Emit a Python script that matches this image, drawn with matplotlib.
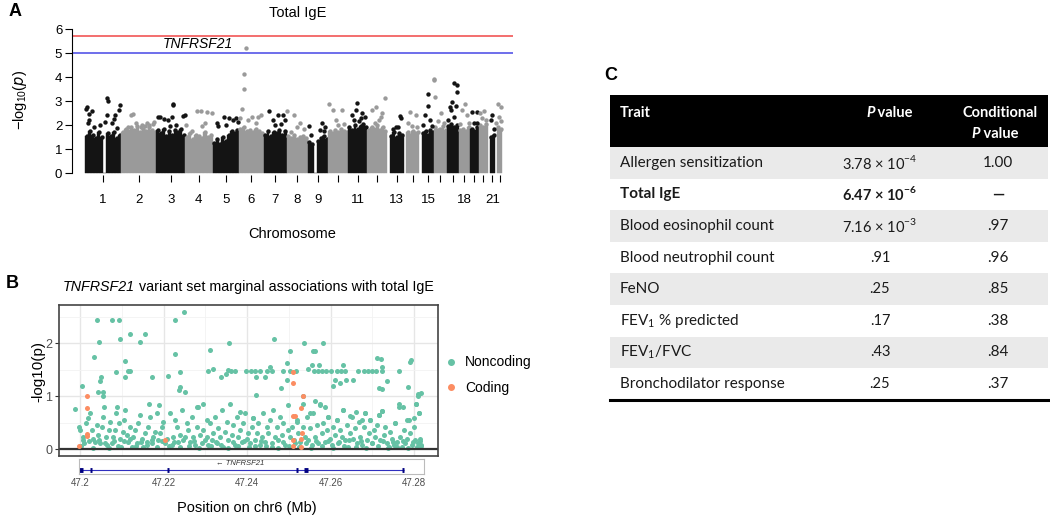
import matplotlib.pyplot as plt
from matplotlib.patches import Rectangle
from matplotlib.lines import Line2D
import numpy as np

W, H = 1050, 515

plt.rcParams['font.family'] = ['Liberation Sans', 'DejaVu Sans']

# ---------------- panel A data (genome-wide scan, total IgE) ----------------
chrom_len = [249.3, 243.2, 198.0, 191.2, 180.9, 171.1, 159.1, 146.4, 141.2, 135.5,
             135.0, 133.9, 115.2, 107.3, 102.5, 90.4, 81.2, 78.1, 59.1, 63.0, 48.1, 51.3]
chrom_first = [0.8, 0.1, 0.1, 0.1, 0.1, 0.2, 0.1, 0.2, 0.2, 0.1, 0.2, 0.1,
               19.1, 19.5, 20.1, 0.1, 0.1, 0.1, 0.3, 0.1, 14.6, 16.1]
# top of the dense point cloud, read along each chromosome
bulk_top = [
    [1.55, 1.75, 1.6, 1.45, 1.7, 1.5, 0, 1.65, 1.55, 1.7, 1.45, 1.6],
    [1.7, 1.85, 1.75, 1.9, 1.8, 1.95, 1.7, 1.85, 1.75, 1.9, 1.8, 1.7],
    [1.8, 1.65, 1.85, 1.55, 1.75, 1.6, 1.8, 1.7, 1.85, 1.6],
    [1.5, 1.65, 1.4, 1.6, 1.55, 1.45, 1.7, 1.5, 1.6],
    [1.25, 1.4, 1.2, 1.5, 1.35, 1.6, 1.75, 1.65, 1.8],
    [1.85, 1.9, 1.75, 1.8, 1.7, 1.85, 1.75, 1.65],
    [1.6, 1.75, 1.55, 1.7, 1.65, 1.8, 1.6, 1.75],
    [1.55, 1.45, 1.6, 1.4, 1.5, 1.55, 1.45],
    [1.3, 1.2, 0, 1.35, 1.45, 1.55, 1.4],
    [1.75, 1.65, 1.8, 1.7, 1.85, 1.75, 1.7],
    [1.9, 1.8, 2.0, 1.85, 1.95, 2.05, 1.9],
    [1.8, 1.9, 1.85, 2.0, 1.8, 1.9, 1.75],
    [1.55, 1.7, 1.5, 1.65, 1.6],
    [1.7, 1.6, 1.75, 1.65, 1.7],
    [1.65, 1.75, 1.6, 1.8, 1.7],
    [1.9, 1.8, 1.85, 1.95, 1.8],
    [1.95, 2.05, 1.9, 2.0],
    [1.8, 1.85, 1.75, 1.9],
    [1.85, 1.75, 1.9],
    [2.0, 1.9, 2.05],
    [1.5, 1.6],
    [1.9, 1.8, 1.85],
]
# single SNPs standing above the cloud (position in Mb, -log10 p)
peak_pos = [
    [5, 16, 30, 45, 25, 60, 150, 160, 155, 140, 240, 235, 210, 200, 23, 104, 184, 219],
    [70, 85, 105, 140, 165, 195, 220, 143, 177, 227, 50],
    [10, 55, 115, 118, 108, 185, 92, 138, 26, 83, 195],
    [80, 155, 45, 115, 111, 188, 10, 140],
    [78, 140, 158, 37, 95, 113, 176, 30],
    [5, 20, 47.2, 33, 34, 90, 150, 120, 60, 131],
    [35, 100, 135, 65, 150, 80, 120],
    [2, 50, 95, 30, 70, 120],
    [10, 100, 120, 85, 110, 20],
    [5, 30, 95, 55, 70, 110],
    [60, 55, 100, 120, 25, 90, 40, 75],
    [30, 60, 100, 90, 120, 50, 80],
    [90, 100, 60, 40, 80],
    [45, 85, 30, 60, 95],
    [60, 61, 40, 75, 30, 90],
    [2, 3, 8, 50, 30, 70],
    [50, 68, 70, 35, 20, 28, 62, 10, 45],
    [40, 20, 60, 10, 70],
    [10, 50, 30, 45],
    [10, 35, 50, 25],
    [30, 25, 40],
    [20, 45, 32, 10, 40],
]
peak_val = [
    [2.65, 2.74, 2.45, 2.6, 2.21, 1.9, 3.12, 3.02, 2.42, 2.14, 2.83, 2.63, 2.42, 2.24, 2.07, 2.0, 2.07, 1.86],
    [2.42, 2.46, 2.07, 1.9, 1.95, 2.0, 2.05, 2.0, 2.07, 2.14, 1.93],
    [2.32, 2.24, 2.88, 2.82, 2.32, 2.39, 1.95, 2.0, 2.35, 2.21, 2.42],
    [2.58, 2.56, 1.75, 1.95, 2.6, 2.51, 2.0, 2.07],
    [2.32, 2.2, 2.3, 1.95, 2.0, 2.28, 2.14, 2.07],
    [2.3, 2.67, 5.2, 4.14, 3.52, 2.35, 2.42, 2.07, 2.2, 2.35],
    [2.6, 2.42, 2.42, 2.21, 2.21, 2.0, 2.05],
    [2.6, 2.42, 2.07, 1.72, 1.9, 1.85],
    [1.95, 2.07, 1.93, 1.8, 1.75, 1.6],
    [2.86, 2.63, 2.63, 2.21, 2.0, 2.05],
    [2.9, 2.63, 2.49, 2.35, 2.42, 2.28, 2.2, 2.15],
    [2.63, 2.76, 2.49, 2.35, 3.14, 2.1, 2.2],
    [2.38, 2.28, 1.93, 1.85, 1.9],
    [2.53, 2.42, 2.07, 1.95, 1.9],
    [3.28, 2.79, 2.42, 2.21, 2.0, 1.95],
    [3.93, 3.88, 3.15, 2.49, 2.15, 2.1],
    [3.74, 3.67, 3.39, 2.97, 2.76, 2.63, 2.79, 2.2, 2.35],
    [2.88, 2.63, 2.42, 2.05, 2.1],
    [2.56, 2.53, 2.07, 2.1],
    [2.49, 2.58, 2.2, 2.3],
    [2.42, 2.21, 1.85],
    [2.86, 2.76, 2.35, 2.1, 2.15],
]
label_chroms = [1, 2, 3, 4, 5, 6, 7, 8, 9, 11, 13, 15, 18, 21]
sig_line = 5.7
sugg_line = 5.0

# ---------------- panel B data (TNFRSF21 region, kb from 47.2 Mb) ----------------
nc_hi_kb = [-1.2, 0.3, 3.9, 4.6, 3.3, 4.9, 4.7, 4.2, 5.5, 5.5,
            7.7, 9.3, 9.6, 11.8, 10.7, 10.6, 8.5, 11.4, 12.0, 14.2,
            15.4, 17.2, 18.9, 16.5, 22.6, 24.8, 22.7, 21.0, 23.8, 23.6,
            25.2, 23.9, 31.2, 31.9, 30.6, 35.6, 33.7, 35.5, 34.9, 36.2,
            37.0, 39.8, 41.0, 42.0, 43.0, 44.7, 42.2, 44.2, 42.2, 46.5,
            50.2, 49.5, 48.2, 49.5, 50.3, 51.7, 48.7, 45.5, 46.0, 53.7,
            53.4, 54.6, 55.7, 56.2, 58.2, 55.5, 57.3, 56.0, 57.0, 58.0,
            59.0, 60.0, 61.5, 62.5, 63.5, 66.5, 68.0, 69.0, 70.0, 71.0,
            72.3, 63.0, 61.0, 62.2, 63.8, 60.5, 65.5, 71.1, 72.1, 72.3,
            73.5, 71.7, 72.3, 76.3, 79.0, 79.3, 78.6, 80.9, 81.7, 81.0]
nc_hi_val = [0.76, 1.20, 2.44, 2.03, 1.73, 1.37, 1.29, 1.07, 1.07, 1.00,
             2.44, 2.44, 2.08, 2.18, 1.66, 1.37, 1.46, 1.48, 1.48, 2.02,
             2.18, 1.37, 0.83, 0.86, 2.44, 2.59, 1.79, 1.38, 1.18, 1.12,
             1.08, 1.46, 1.87, 1.52, 1.47, 2.01, 1.36, 1.50, 1.41, 1.47,
             1.47, 1.48, 1.48, 1.48, 1.48, 1.48, 1.36, 1.36, 1.02, 2.08,
             1.85, 1.63, 1.15, 1.31, 1.48, 1.48, 1.48, 1.55, 1.48, 2.01,
             1.01, 1.51, 1.85, 1.85, 2.01, 1.59, 1.59, 1.48, 1.48, 1.48,
             1.48, 1.48, 1.48, 1.48, 1.48, 1.48, 1.48, 1.48, 1.48, 1.48,
             1.48, 1.59, 1.31, 1.24, 1.31, 1.20, 1.31, 1.72, 1.70, 1.55,
             1.29, 1.16, 1.14, 1.48, 1.65, 1.68, 1.18, 1.04, 1.05, 1.00]
nc_mid_kb = [2.3, 5.7, 8.6, 8.9, 10.8, 14.3, 16.7, 18.3, 21.5, 24.3,
             26.7, 27.9, 29.5, 30.3, 32.3, 33.9, 35.9, 37.5, 38.3, 39.5,
             41.5, 43.9, 46.3, 47.9, 49.9, 51.9, 53.5, 55.1, 56.2, 57.5,
             58.7, 59.5, 61.5, 63.1, 64.7, 66.0, 67.5, 68.3, 69.5, 71.5,
             72.3, 75.5, 76.3, 77.3, 78.3, 80.5, 81.2, 80.0]
nc_mid_val = [0.68, 0.80, 0.68, 0.80, 0.74, 0.64, 0.61, 0.68, 0.68, 0.74,
              0.61, 0.80, 0.85, 0.55, 0.61, 0.74, 0.86, 0.61, 0.70, 0.68,
              0.58, 0.68, 0.74, 0.61, 0.84, 0.55, 0.85, 0.68, 0.90, 0.86,
              0.80, 0.61, 0.55, 0.74, 0.63, 0.70, 0.55, 0.68, 0.55, 0.64,
              0.71, 0.50, 0.86, 0.80, 0.55, 0.86, 0.68, 0.58]
nc_low_kb = [-0.3, -0.1, 0.6, 0.7, 1.0, 1.4, 1.9, 2.7, 3.1, 3.5, 3.9, 4.3, 4.7, 5.1, 5.5, 6.2, 6.5, 6.8, 7.1,
             7.5, 7.9, 8.3, 9.2, 9.5, 9.8, 10.2, 10.5, 11.1, 11.5, 11.9, 12.3, 12.7, 13.1, 13.5, 13.9, 14.7, 15.1, 15.5, 15.9, 16.3,
             17.1, 17.5, 17.9, 18.7, 19.1, 19.5, 19.9, 20.3, 20.7, 21.9, 22.3, 22.7, 23.1, 23.5, 23.9, 25.1, 25.5, 25.9, 26.3, 27.1, 27.5, 27.9, 28.3, 28.7,
             29.1, 29.5, 30.3, 30.7, 31.1, 31.5, 31.9, 32.7, 33.1, 33.5, 34.3, 34.7, 35.1, 35.5, 36.3, 36.7, 37.1, 37.9, 38.3, 38.7, 39.1, 39.9, 40.3, 40.7, 41.1, 41.5,
             41.9, 42.3, 42.7, 43.1, 43.5, 44.3, 44.7, 45.1, 45.5, 45.9, 46.7, 47.1, 47.5, 48.3, 48.7, 49.1, 49.9, 50.3, 50.7, 51.5, 51.9, 52.3, 52.7, 53.5, 53.9, 54.3,
             54.7, 55.1, 55.5, 55.9, 56.3, 56.7, 57.1, 57.5, 57.9, 58.3, 58.7, 59.1, 59.5, 59.9, 60.3, 60.7, 61.1, 61.5, 61.9, 62.3, 62.7, 63.1, 63.5, 63.9, 64.3, 64.7, 65.1, 65.5, 65.9, 66.3, 66.7, 67.1,
             67.5, 67.9, 68.3, 68.7, 69.1, 69.5, 69.9, 70.3, 70.7, 71.1, 71.5, 71.9, 72.3, 72.7, 73.1, 73.5, 73.9, 74.3, 74.7, 75.1, 75.5, 75.9, 76.3, 76.7, 77.1, 77.5, 77.9, 78.3, 78.7, 79.1, 79.5, 79.9, 80.3, 80.5, 80.9, 81.2, 81.5, 81.8]
nc_low_val = [0.42, 0.36, 0.23, 0.17, 0.11, 0.49, 0.58, 0.36, 0.20, 0.14, 0.45, 0.26, 0.11, 0.42, 0.61, 0.23, 0.08, 0.36, 0.52,
              0.11, 0.23, 0.36, 0.49, 0.20, 0.04, 0.33, 0.55, 0.26, 0.14, 0.42, 0.04, 0.23, 0.36, 0.11, 0.49, 0.20, 0.04, 0.30, 0.14, 0.42,
              0.11, 0.23, 0.33, 0.17, 0.30, 0.42, 0.52, 0.11, 0.20, 0.08, 0.23, 0.55, 0.42, 0.14, 0.26, 0.23, 0.49, 0.36, 0.14, 0.23, 0.08, 0.42, 0.80, 0.26,
              0.11, 0.36, 0.23, 0.08, 0.49, 0.17, 0.30, 0.11, 0.39, 0.23, 0.04, 0.33, 0.52, 0.17, 0.26, 0.45, 0.08, 0.23, 0.36, 0.14, 0.49, 0.20, 0.30, 0.11, 0.42, 0.58,
              0.17, 0.30, 0.49, 0.08, 0.23, 0.14, 0.42, 0.30, 0.55, 0.04, 0.23, 0.42, 0.17, 0.26, 0.49, 0.08, 0.36, 0.23, 0.42, 0.11, 0.52, 0.30, 0.14, 0.42, 0.23, 0.61,
              0.17, 0.39, 0.08, 0.68, 0.23, 0.45, 0.11, 0.83, 0.30, 0.49, 0.14, 0.36, 0.61, 0.20, 0.08, 0.42, 0.26, 0.55, 0.11, 0.36, 0.23, 0.74, 0.17, 0.45, 0.04, 0.30, 0.61, 0.20, 0.39, 0.11, 0.52, 0.23,
              0.08, 0.42, 0.68, 0.17, 0.30, 0.55, 0.11, 0.36, 0.23, 0.45, 0.64, 0.17, 0.71, 0.26, 0.42, 0.11, 0.04, 0.33, 0.20, 0.08, 0.49, 0.14, 0.80, 0.23, 0.04, 0.36, 0.11, 0.20, 0.55, 0.30, 0.08, 0.42, 0.17, 0.86, 0.11, 0.68, 0.20, 0.08]
nc_base_kb = [0.2, 2.0, 3.0, 4.4, 5.8, 6.9, 8.0, 9.0, 10.4, 12.0, 13.3, 14.5, 16.0, 17.3, 18.5, 19.7, 21.2, 22.5, 24.0, 24.6,
              26.0, 27.3, 28.5, 29.8, 31.3, 32.5, 33.8, 35.3, 36.5, 37.7, 39.3, 40.5, 42.0, 43.3, 44.5, 46.0, 47.3, 48.5, 50.0, 51.2,
              52.5, 54.0, 55.3, 56.5, 58.0, 59.3, 60.5, 62.0, 63.3, 64.5, 66.0, 67.3, 68.5, 70.0, 71.3, 72.5, 73.7, 74.9, 76.0, 77.3,
              78.5, 79.7, 80.7, 81.4, 81.6]
nc_base_val = [0.05, 0.15, 0.03, 0.18, 0.12, 0.02, 0.15, 0.06, 0.16, 0.20, 0.05, 0.13, 0.07, 0.18, 0.04, 0.15, 0.05, 0.14, 0.04, 0.18,
               0.06, 0.16, 0.03, 0.18, 0.05, 0.14, 0.07, 0.03, 0.13, 0.05, 0.16, 0.04, 0.06, 0.16, 0.05, 0.12, 0.03, 0.14, 0.05, 0.17,
               0.04, 0.12, 0.03, 0.15, 0.05, 0.16, 0.03, 0.14, 0.05, 0.18, 0.04, 0.15, 0.03, 0.12, 0.05, 0.16, 0.03, 0.13, 0.04, 0.15,
               0.03, 0.14, 0.04, 0.15, 0.05]
cod_kb = [1.6, 1.6, 1.7, 1.5, -0.3, 20.2, 51.0, 50.9, 51.1, 51.4, 53.4, 53.0, 53.1, 53.0, 51.0, 51.0, 53.0]
cod_val = [1.00, 0.78, 0.28, 0.25, 0.06, 0.17, 1.46, 1.25, 0.63, 0.62, 1.00, 0.77, 0.30, 0.20, 0.18, 0.06, 0.04]
gene_span = (47.1996, 47.2776)
exon_start = [47.1996, 47.2024, 47.2209, 47.2518, 47.2536, 47.2772]
exon_end = [47.2006, 47.2027, 47.2212, 47.2521, 47.2545, 47.2777]
region_ticks = [47.20, 47.22, 47.24, 47.26, 47.28]
region_tick_labels = ['47.2', '47.22', '47.24', '47.26', '47.28']

# ---------------- panel C data ----------------
traits = ['Allergen sensitization', 'Total IgE', 'Blood eosinophil count', 'Blood neutrophil count',
          'FeNO', r'FEV$_{\mathregular{1}}$ % predicted', r'FEV$_{\mathregular{1}}$/FVC', 'Bronchodilator response']
p_values = [r'3.78 × 10$^{\mathregular{-4}}$', r'6.47 × 10$^{\mathregular{-6}}$', r'7.16 × 10$^{\mathregular{-3}}$',
            '.91', '.25', '.17', '.43', '.25']
cond_p_values = ['1.00', '—', '.97', '.96', '.85', '.38', '.84', '.37']
bold_row = 1


def box(l, t, r, b):
    return [l / W, 1 - b / H, (r - l) / W, (b - t) / H]


fig = plt.figure(figsize=(W / 100, H / 100), dpi=100)

# =============== A ===============
ax = fig.add_axes(box(72, 25, 513, 175))
starts = np.concatenate([[0], np.cumsum(chrom_len)[:-1]])
cols = ['#141414', '#9a9a9a']
for i in range(len(chrom_len)):
    c = cols[i % 2]
    tops = np.array(bulk_top[i])
    edges = starts[i] + np.linspace(chrom_first[i], chrom_len[i], len(tops) + 1)
    ax.bar(edges[:-1], tops, width=np.diff(edges), align='edge', color=c,
           edgecolor=c, linewidth=0.3)
    mids = (edges[:-1] + edges[1:]) / 2
    keep = tops > 0
    ax.scatter(mids[keep], tops[keep], s=10, color=c, linewidths=0)
    ax.scatter(starts[i] + np.array(peak_pos[i]), peak_val[i], s=10, color=c,
               linewidths=0, zorder=3)
ax.axhline(sig_line, color='#f04646', lw=1.1)
ax.axhline(sugg_line, color='#4646e6', lw=1.1)
ax.text(1022, 5.37, 'TNFRSF21', style='italic', ha='right', va='center', fontsize=10)

centers = starts + (np.array(chrom_first) + np.array(chrom_len)) / 2
ax.set_xticks(centers)
ax.set_xticklabels([str(k) if k in label_chroms else '' for k in range(1, 23)], fontsize=9.5)
ax.tick_params(axis='x', length=5, width=0.8, pad=9)
ax.set_yticks(range(7))
ax.tick_params(axis='y', length=5, width=0.8, labelsize=9.5, pad=2)
ax.set_xlim(-90, 2956)
ax.set_ylim(-0.083, 6.17)
for s in ['top', 'right', 'bottom']:
    ax.spines[s].set_visible(False)
ax.spines['left'].set_bounds(0, 6)
ax.spines['left'].set_linewidth(0.8)

fig.text(298 / W, 1 - 13 / H, 'Total IgE', ha='center', va='center', fontsize=10.5)
fig.text(20 / W, 1 - 100 / H, r'$\mathregular{-log_{10}(}\mathit{p}\mathregular{)}$',
         rotation=90, ha='center', va='center', fontsize=10.5)
fig.text(292 / W, 1 - 234 / H, 'Chromosome', ha='center', va='center', fontsize=10.5)

# =============== B ===============
axb = fig.add_axes(box(59, 305, 438, 456))
axb.scatter(47.2 + np.array(nc_base_kb) / 1000, nc_base_val, s=13, color='#66C2A5', linewidths=0)
axb.scatter(47.2 + np.array(nc_low_kb) / 1000, nc_low_val, s=13, color='#66C2A5', linewidths=0)
axb.scatter(47.2 + np.array(nc_mid_kb) / 1000, nc_mid_val, s=13, color='#66C2A5', linewidths=0)
axb.scatter(47.2 + np.array(nc_hi_kb) / 1000, nc_hi_val, s=13, color='#66C2A5', linewidths=0)
axb.scatter(47.2 + np.array(cod_kb) / 1000, cod_val, s=13, color='#FC8D62', linewidths=0, zorder=3)
axb.axhline(0, color='#333333', lw=1.6, zorder=2)
axb.set_xlim(47.19489, 47.28576)
axb.set_ylim(-0.13, 2.72)
axb.set_xticks(region_ticks)
axb.set_xticks([47.21, 47.23, 47.25, 47.27], minor=True)
axb.set_yticks([0, 1, 2])
axb.set_yticks([0.5, 1.5, 2.5], minor=True)
axb.grid(which='major', color='#E6E6E6', lw=1.0)
axb.grid(which='minor', color='#F2F2F2', lw=0.6)
axb.set_axisbelow(True)
axb.tick_params(axis='x', which='both', length=0, labelbottom=False)
axb.tick_params(axis='y', which='major', length=3, color='#333333', labelcolor='#4D4D4D', labelsize=9, pad=2)
axb.tick_params(axis='y', which='minor', length=0)
for s in axb.spines.values():
    s.set_color('#444444')
    s.set_linewidth(1.2)
fig.text(38 / W, 1 - 372 / H, '-log10(p)', rotation=90, ha='center', va='center', fontsize=11)

handles = [Line2D([], [], marker='o', ls='', color='#66C2A5', ms=4, label='Noncoding'),
           Line2D([], [], marker='o', ls='', color='#FC8D62', ms=4, label='Coding')]
axb.legend(handles=handles, loc='center left', bbox_to_anchor=(432 / W, 1 - 375 / H),
           bbox_transform=fig.transFigure, frameon=False, fontsize=10,
           handletextpad=0.5, labelspacing=0.8, handlelength=1.0)

t1 = fig.text(63 / W, 1 - 287 / H, 'TNFRSF21', style='italic', ha='left', va='center', fontsize=10.3)
axb.annotate(' variant set marginal associations with total IgE', xy=(1, 0), xycoords=t1,
             ha='left', va='bottom', fontsize=10.3, annotation_clip=False)

axg = fig.add_axes(box(79, 459, 424, 474))
axg.hlines(0.27, gene_span[0], gene_span[1], color='#2F2FBF', lw=0.8)
axg.hlines([0.27] * len(exon_start), exon_start, exon_end, color='#000080', lw=3.5)
axg.text(47.2383, 0.68, '← TNFRSF21', style='italic', ha='center', va='center', fontsize=5.5, color='#333333')
axg.set_xlim(47.19969, 47.28240)
axg.set_ylim(0, 1)
axg.set_yticks([])
axg.set_xticks(region_ticks)
axg.set_xticklabels(region_tick_labels)
axg.tick_params(axis='x', length=0, labelsize=7, labelcolor='#4D4D4D', pad=3)
for s in axg.spines.values():
    s.set_color('#BBBBBB')
    s.set_linewidth(0.8)
fig.text(247 / W, 1 - 508 / H, 'Position on chr6 (Mb)', ha='center', va='center', fontsize=10.5)

# =============== C (table) ===============
axc = fig.add_axes([0, 0, 1, 1])
axc.set_xlim(0, W)
axc.set_ylim(H, 0)
axc.axis('off')
tfont = ['Lato', 'DejaVu Sans']
tl, tr, head_top, head_bot, row_h = 610, 1048, 95, 147, 31.6
axc.add_patch(Rectangle((tl, head_top), tr - tl, head_bot - head_top, color='black', lw=0))
for i in range(len(traits)):
    y0 = head_bot + i * row_h
    if i % 2 == 0:
        axc.add_patch(Rectangle((tl, y0), tr - tl, row_h, color='#EAEAEA', lw=0))
    yc = y0 + row_h / 2
    w = 'bold' if i == bold_row else 'normal'
    axc.text(620, yc, traits[i], family=tfont, fontsize=11, fontweight=w,
             ha='left', va='center', color='#1a1a1a')
    axc.text(880, yc, p_values[i], family=tfont, fontsize=10.5, fontweight=w,
             ha='center', va='center', color='#1a1a1a')
    axc.text(998, yc, cond_p_values[i], family=tfont, fontsize=11, fontweight=w,
             ha='center', va='center', color='#1a1a1a')
axc.plot([tl, tr], [head_bot + len(traits) * row_h] * 2, color='black', lw=2.2)

axc.text(620, 113, 'Trait', family=tfont, fontsize=10.5, fontweight='bold', color='white', ha='left', va='center')
p1 = axc.text(866, 113, 'P', family=tfont, fontsize=10.5, fontweight='bold', style='italic',
              color='white', ha='left', va='center')
axc.annotate(' value', xy=(1, 0), xycoords=p1, family=tfont, fontsize=10.5, fontweight='bold',
             color='white', ha='left', va='bottom')
axc.text(1000, 113, 'Conditional', family=tfont, fontsize=10.5, fontweight='bold', color='white',
         ha='center', va='center')
p2 = axc.text(971, 134, 'P', family=tfont, fontsize=10.5, fontweight='bold', style='italic',
              color='white', ha='left', va='center')
axc.annotate(' value', xy=(1, 0), xycoords=p2, family=tfont, fontsize=10.5, fontweight='bold',
             color='white', ha='left', va='bottom')

# panel letters
axc.text(15, 12, 'A', fontsize=13, fontweight='bold', ha='center', va='center')
axc.text(12, 284, 'B', fontsize=13, fontweight='bold', ha='center', va='center')
axc.text(611, 75, 'C', fontsize=13, fontweight='bold', ha='center', va='center')

fig.savefig('out.png', dpi=100)
